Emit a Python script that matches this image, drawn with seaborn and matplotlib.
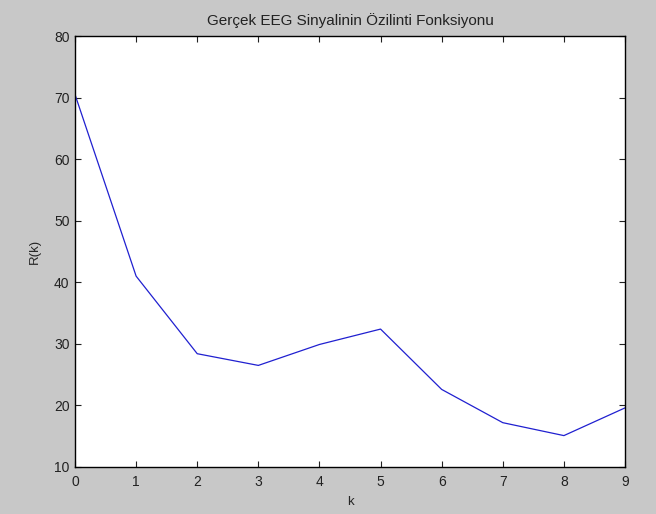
import numpy as np
import pandas as pd
import matplotlib
matplotlib.use("Agg")
import matplotlib.pyplot as plt
import seaborn as sns

k = [0, 1, 2, 3, 4, 5, 6, 7, 8, 9]
R = [70.5, 41.0, 28.4, 26.5, 29.9, 32.4, 22.6, 17.2, 15.1, 19.6]

df = pd.DataFrame({"k": k, "R": R})

sns.set_style("ticks")
plt.rcParams["font.family"] = ["Liberation Sans", "DejaVu Sans"]

fig = plt.figure(figsize=(6.56, 5.14), dpi=100, facecolor="#c8c8c8")
ax = fig.add_axes([75 / 656, 47 / 514, 550 / 656, 431 / 514])
ax.set_facecolor("white")

sns.lineplot(data=df, x="k", y="R", ax=ax, color="#2020d0", linewidth=0.9)

ax.set_xlim(0, 9)
ax.set_ylim(10, 80)
ax.set_xticks(range(0, 10))
ax.set_yticks(range(10, 90, 10))
ax.tick_params(direction="in", top=True, right=True, length=4, width=0.8,
               labelsize=10, colors="#222222")
ax.tick_params(axis="x", pad=6)
ax.tick_params(axis="y", pad=4)
for s in ax.spines.values():
    s.set_linewidth(1.0)
    s.set_color("black")

ax.set_xlabel("k", fontsize=9.5, labelpad=5)
ax.set_ylabel("R(k)", fontsize=9.5, labelpad=9)
ax.set_title("Gerçek EEG Sinyalinin Özilinti Fonksiyonu", fontsize=11, pad=8,
             color="#222222")

fig.savefig("out.png", dpi=100, facecolor=fig.get_facecolor())
